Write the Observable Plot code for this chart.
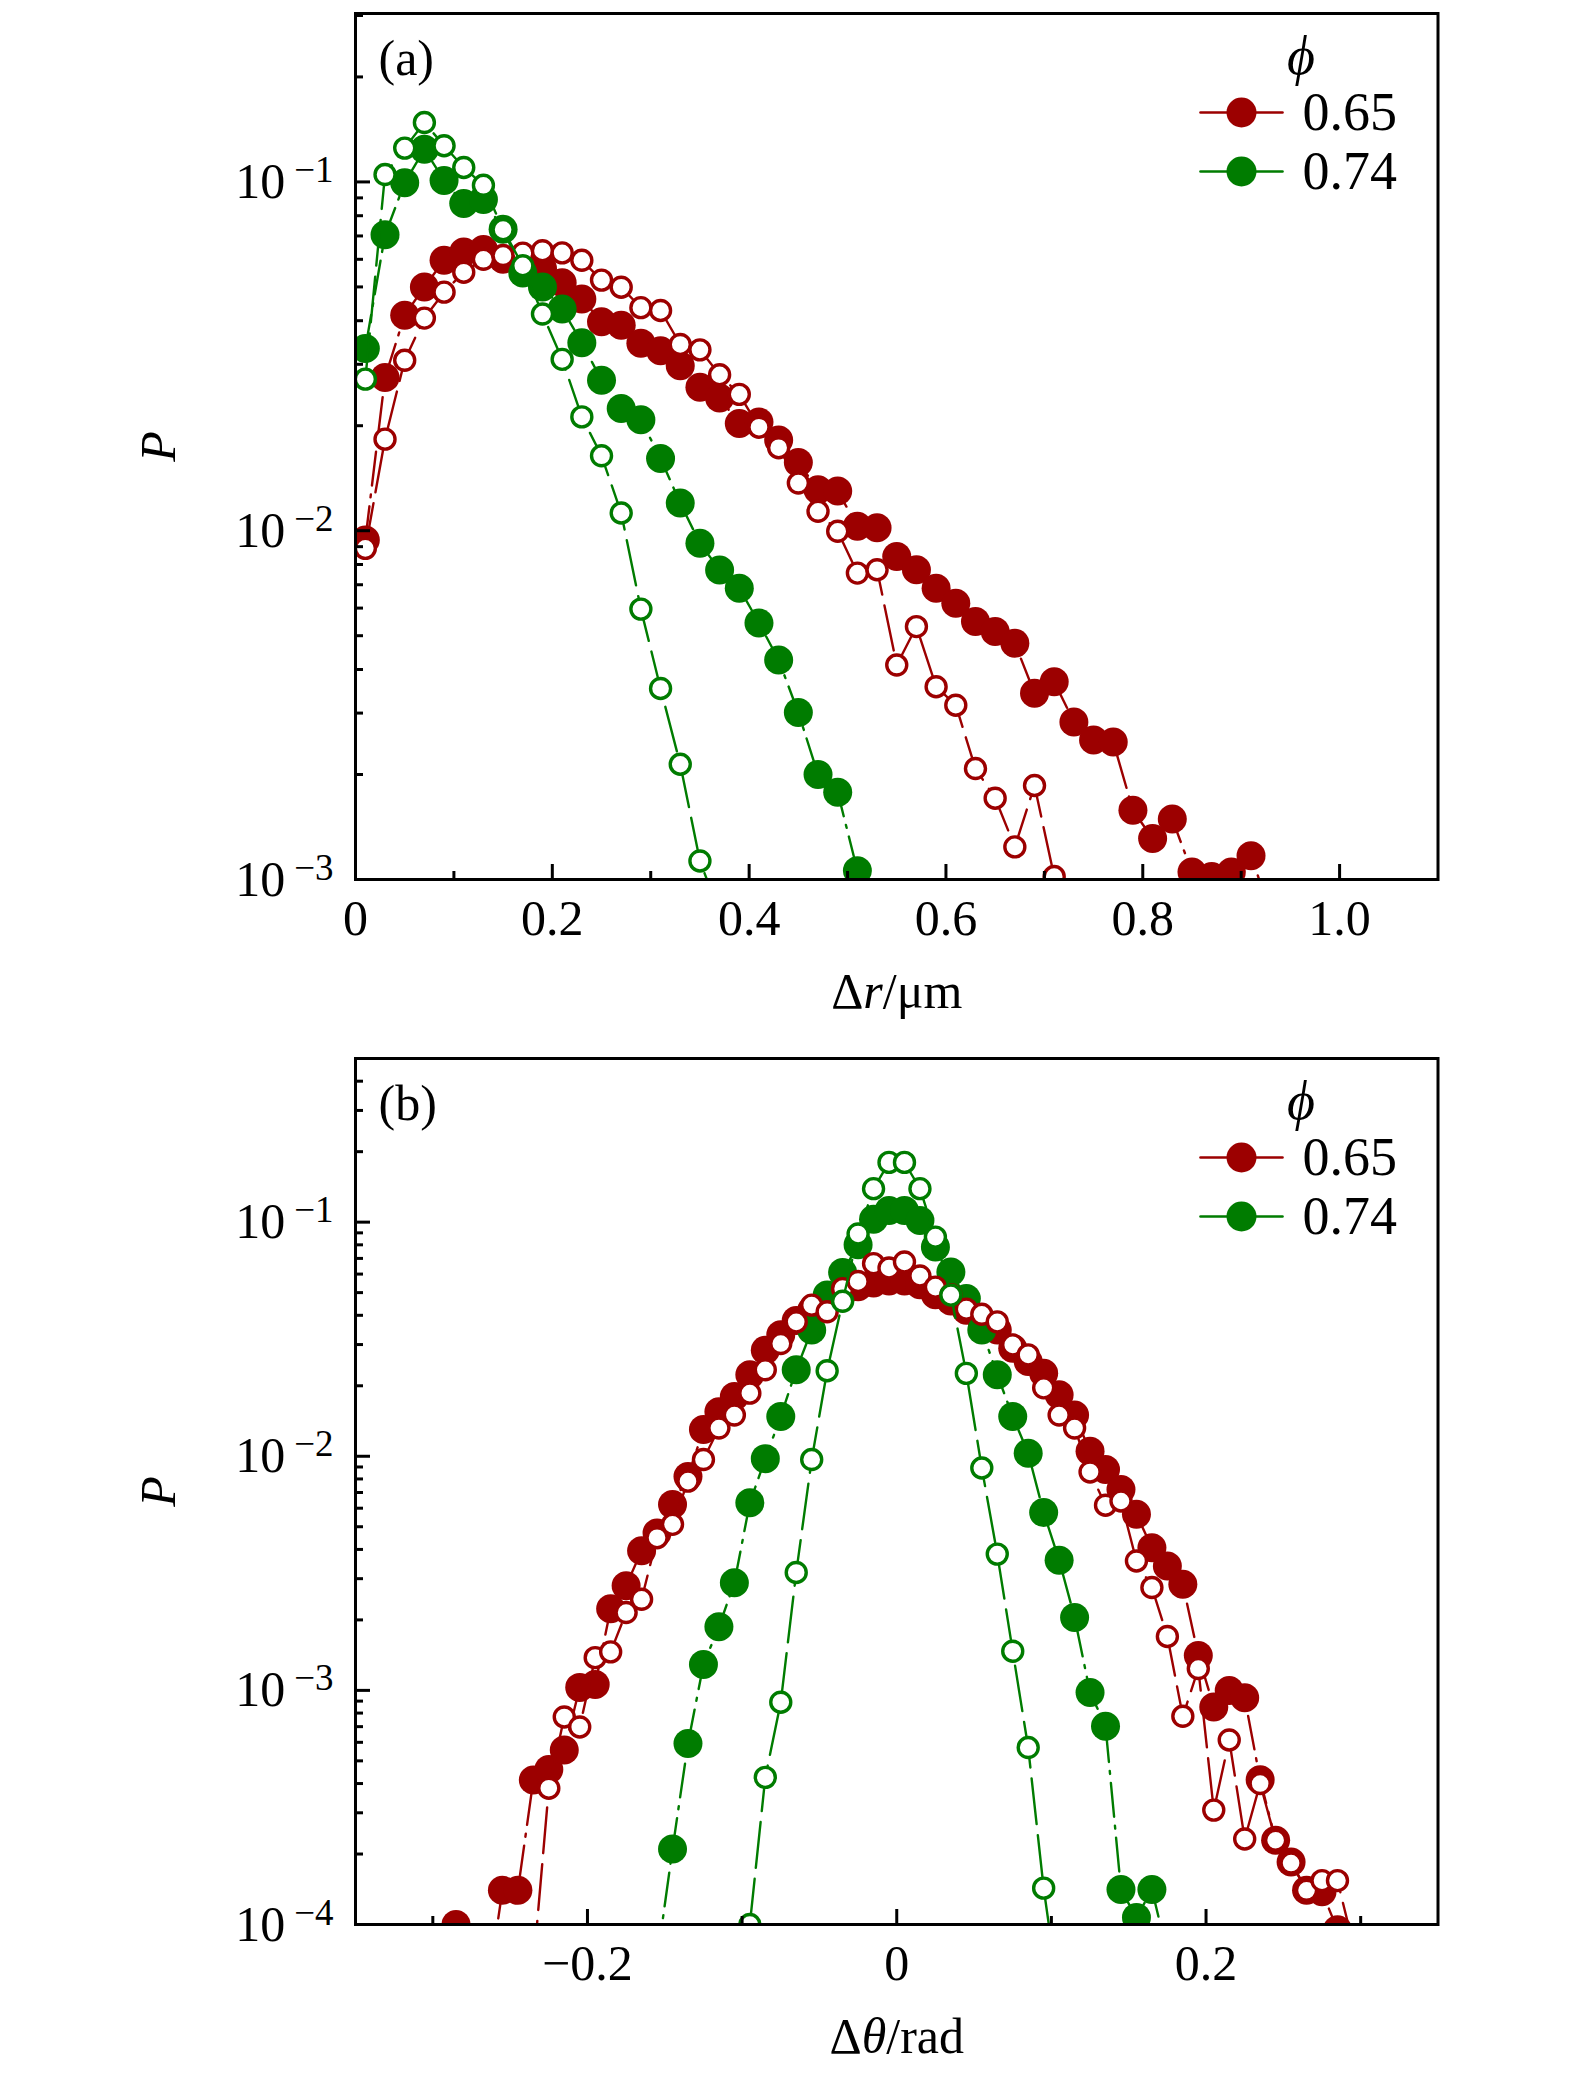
<!DOCTYPE html>
<html>
<head>
<meta charset="utf-8">
<script src="https://cdn.jsdelivr.net/npm/d3@7"></script>
<script src="https://cdn.jsdelivr.net/npm/@observablehq/plot@0.6"></script>
<style>
  html, body { margin: 0; padding: 0; background: #fff; }
  #chart { width: 1575px; }
  #chart svg { display: block; }
</style>
</head>
<body>
<div id="chart"></div>
<script>
// ---------------- data: panel (a), Δr bins ----------------
const drA = [0.01,0.03,0.05,0.07,0.09,0.11,0.13,0.15,0.17,0.19,0.21,0.23,0.25,0.27,0.29,0.31,0.33,0.35,0.37,0.39,0.41,0.43,0.45,0.47,0.49,0.51,0.53,0.55,0.57,0.59,0.61,0.63,0.65,0.67,0.69,0.71,0.73,0.75,0.77,0.79,0.81,0.83,0.85,0.87,0.89,0.91,0.93];
// phi = 0.65, filled symbols
const pA065filled = [0.0094,0.0275,0.0415,0.0500,0.0596,0.0630,0.0640,0.0600,0.0580,0.0565,0.0514,0.0462,0.0397,0.0388,0.0345,0.0328,0.0297,0.0258,0.0240,0.0203,0.0205,0.0182,0.0157,0.0131,0.0130,0.0103,0.0102,0.00844,0.00773,0.00684,0.00619,0.00549,0.00514,0.00476,0.00342,0.00369,0.00283,0.00251,0.00248,0.00158,0.00131,0.00149,0.00105,0.00102,0.00105,0.00117,0.0008];
// phi = 0.65, open symbols
const pA065open = [0.0089,0.0183,0.0308,0.0407,0.0483,0.0551,0.0600,0.0615,0.0625,0.0635,0.0626,0.0596,0.0523,0.0499,0.0436,0.0428,0.0342,0.0330,0.0280,0.0246,0.0198,0.0173,0.0137,0.01137,0.00996,0.00756,0.00773,0.00412,0.00531,0.00357,0.00316,0.00208,0.00171,0.00124,0.00186,0.00102,0.0007];
// phi = 0.74, filled symbols
const pA074filled = [0.0333,0.0705,0.0995,0.1240,0.1010,0.0867,0.0890,0.0732,0.0548,0.0500,0.0432,0.0346,0.0270,0.0224,0.0208,0.0161,0.0120,0.00920,0.00772,0.00684,0.00544,0.00426,0.00301,0.00200,0.00178,0.00106];
// phi = 0.74, open symbols
const pA074open = [0.0272,0.105,0.125,0.148,0.127,0.110,0.0978,0.0730,0.0575,0.0418,0.0310,0.0212,0.0164,0.01124,0.00596,0.00353,0.00214,0.00113,0.0008];

// ---------------- data: panel (b), Δθ bins ----------------
const dthB = [-0.285,-0.275,-0.265,-0.255,-0.245,-0.235,-0.225,-0.215,-0.205,-0.195,-0.185,-0.175,-0.165,-0.155,-0.145,-0.135,-0.125,-0.115,-0.105,-0.095,-0.085,-0.075,-0.065,-0.055,-0.045,-0.035,-0.025,-0.015,-0.005,0.005,0.015,0.025,0.035,0.045,0.055,0.065,0.075,0.085,0.095,0.105,0.115,0.125,0.135,0.145,0.155,0.165,0.175,0.185,0.195,0.205,0.215,0.225,0.235,0.245,0.255,0.265,0.275,0.285,0.295];
const pB065filled = [1.0e-4,5e-5,5e-5,1.40e-4,1.40e-4,4.14e-4,4.59e-4,5.56e-4,1.03e-3,1.06e-3,2.23e-3,2.80e-3,3.95e-3,4.7e-3,6.22e-3,8.2e-3,0.0130,0.0155,0.0180,0.0223,0.0284,0.0330,0.0380,0.0420,0.0460,0.0500,0.0530,0.0550,0.0560,0.0560,0.0540,0.0490,0.0460,0.0420,0.0380,0.0346,0.0289,0.0254,0.0226,0.0183,0.0150,0.0105,0.00877,0.00721,0.00565,0.00407,0.00340,0.00284,0.00141,0.00085,0.00100,0.00093,0.000415,0.000229,0.000185,0.000140,0.000138,0.000095,null];
const pB065open = [null,null,null,null,null,6.6e-5,3.82e-4,7.7e-4,6.98e-4,1.38e-3,1.46e-3,2.15e-3,2.45e-3,4.49e-3,5.12e-3,7.83e-3,9.68e-3,0.0132,0.0150,0.0186,0.0234,0.0303,0.0375,0.0442,0.0414,0.0520,0.0558,0.0665,0.0637,0.0676,0.0589,0.0528,0.0490,0.0425,0.0404,0.0375,0.0299,0.0271,0.0196,0.0150,0.0132,0.00857,0.00618,0.00644,0.00357,0.00275,0.00170,0.000775,0.00124,0.000308,0.000614,0.000232,0.000400,0.000229,0.000183,0.000140,0.000154,0.000154,8.3e-5];
const pB074filled = [null,null,null,null,null,null,null,null,null,null,null,null,null,7e-5,2.10e-4,5.93e-4,1.29e-3,1.87e-3,2.88e-3,6.33e-3,9.77e-3,0.0148,0.0234,0.0346,0.0488,0.0610,0.0800,0.1030,0.1120,0.1120,0.1016,0.0783,0.0612,0.0472,0.0346,0.0223,0.0148,0.0103,0.00575,0.00360,0.00205,0.00098,0.000703,0.000141,0.000107,0.000141,7.5e-5,null,null,null,null,null,null,null,null,null,null,null,null];
const pB074open = [null,null,null,null,null,null,null,null,null,null,null,null,null,null,null,null,null,null,null,1.0e-4,4.25e-4,8.9e-4,3.19e-3,9.68e-3,0.0232,0.0459,0.0890,0.139,0.180,0.180,0.139,0.0863,0.0488,0.0226,0.00891,0.00382,0.00147,0.00057,0.000143,4.9e-5,null,null,null,null,null,null,null,null,null,null,null,null,null,null,null,null,null,null,null];

// ---------------- ticks and labels ----------------
const xMajorA = [0, 0.2, 0.4, 0.6, 0.8, 1.0];
const xMajorLabelsA = ["0", "0.2", "0.4", "0.6", "0.8", "1.0"];
const xMinorA = [0.1, 0.3, 0.5, 0.7, 0.9];
const yMajorA = [1e-3, 1e-2, 1e-1];
const yMajorLabelsA = ["10|\u22123", "10|\u22122", "10|\u22121"];
const yMinorA = [0.002,0.003,0.004,0.005,0.006,0.007,0.008,0.009,0.02,0.03,0.04,0.05,0.06,0.07,0.08,0.09,0.2,0.3];

const xMajorB = [-0.2, 0, 0.2];
const xMajorLabelsB = ["\u22120.2", "0", "0.2"];
const xMinorB = [-0.3, -0.1, 0.1, 0.3];
const yMajorB = [1e-4, 1e-3, 1e-2, 1e-1];
const yMajorLabelsB = ["10|\u22124", "10|\u22123", "10|\u22122", "10|\u22121"];
const yMinorB = [0.0002,0.0003,0.0004,0.0005,0.0006,0.0007,0.0008,0.0009,0.002,0.003,0.004,0.005,0.006,0.007,0.008,0.009,0.02,0.03,0.04,0.05,0.06,0.07,0.08,0.09,0.2,0.3,0.4];

const legendTitle = "\u03d5";
const legendLabels = ["0.65", "0.74"];
const RED = "#9c0000", GREEN = "#007c00";
const legendColors = [RED, GREEN];

// ---------------- drawing ----------------
const FONT = "'Liberation Serif', 'DejaVu Serif', serif";
const FS = 50;
const DASH = "46,11";
const DASHDOT = "34,9,3,9";
const segShape = {draw(ctx, l) { ctx.moveTo(0, 0); ctx.lineTo(0, -l); }};

function rows(xs, ys) {
  return xs.map((x, i) => ({x, y: ys[i]})).filter(d => d.y != null);
}

function seriesMarks(xs, ys, color, filled) {
  const data = rows(xs, ys);
  return [
    Plot.line(data, {x: "x", y: "y", stroke: color, strokeWidth: 2.4,
      strokeDasharray: filled ? DASHDOT : DASH, clip: true}),
    filled
      ? Plot.dot(data, {x: "x", y: "y", r: 14.5, fill: color, clip: true})
      : Plot.dot(data, {x: "x", y: "y", r: 10, fill: "white", stroke: color, strokeWidth: 3.4, clip: true})
  ];
}

function makePanel(cfg) {
  const marks = [];
  for (const s of cfg.series) marks.push(...seriesMarks(cfg.xs, s.values, s.color, s.filled));
  marks.push(Plot.frame({stroke: "black", strokeWidth: 3}));
  // inward ticks
  marks.push(Plot.axisX(cfg.xMajor, {tickSize: 15, dy: -15, fill: "none", label: null, strokeWidth: 3}));
  marks.push(Plot.axisX(cfg.xMinor, {tickSize: 8, dy: -8, fill: "none", label: null, strokeWidth: 3}));
  marks.push(Plot.axisY(cfg.yMajor, {tickSize: 15, dx: 15, fill: "none", label: null, strokeWidth: 3}));
  marks.push(Plot.axisY(cfg.yMinor, {tickSize: 8, dx: 8, fill: "none", label: null, strokeWidth: 3}));
  // tick labels
  marks.push(Plot.axisX(cfg.xMajor, {tickSize: 0, tickPadding: 20, label: null, fontSize: FS,
    tickFormat: d => cfg.xLabels[cfg.xMajor.indexOf(d)]}));
  marks.push(Plot.axisY(cfg.yMajor, {tickSize: 0, tickPadding: 22, label: null, fontSize: FS,
    tickFormat: d => cfg.yLabels[cfg.yMajor.indexOf(d)]}));
  // axis titles
  marks.push(Plot.text([cfg.xTitle.join("")], {frameAnchor: "bottom", dy: 112, lineAnchor: "middle",
    fontSize: FS}));
  marks.push(Plot.text(["P"], {frameAnchor: "left", dx: -197, rotate: -90, fontStyle: "italic",
    textAnchor: "middle", lineAnchor: "middle", fontSize: FS}));
  // panel tag
  marks.push(Plot.text([cfg.tag], {frameAnchor: "top-left", dx: 23, dy: 26, textAnchor: "start",
    lineAnchor: "top", fontSize: FS}));
  // legend
  marks.push(Plot.text([legendTitle], {frameAnchor: "top-right", dx: -137, dy: 43, textAnchor: "middle",
    lineAnchor: "middle", fontStyle: "italic", fontSize: 54}));
  legendLabels.forEach((lab, i) => {
    const dy = 99 + i * 59;
    marks.push(Plot.vector([lab], {frameAnchor: "top-right", dx: -196.5, dy, length: 82, rotate: 90,
      anchor: "middle", shape: segShape, stroke: legendColors[i], strokeWidth: 2.6}));
    marks.push(Plot.dot([lab], {frameAnchor: "top-right", dx: -196.5, dy, r: 15, fill: legendColors[i]}));
    marks.push(Plot.text([lab], {frameAnchor: "top-right", dx: -135.5, dy, textAnchor: "start",
      lineAnchor: "middle", fontSize: 54}));
  });

  const svg = Plot.plot({
    width: 1575,
    height: cfg.height,
    marginTop: 13,
    marginBottom: cfg.height - 13 - 866,
    marginLeft: 355,
    marginRight: 137.5,
    style: {fontFamily: FONT, fontSize: FS + "px", color: "black", background: "white", overflow: "visible"},
    x: {domain: cfg.xDomain, label: null},
    y: {type: "log", domain: cfg.yDomain, label: null},
    marks
  });

  // superscripts on the log tick labels
  d3.select(svg).selectAll('g[aria-label="y-axis tick label"] text').each(function () {
    const t = d3.select(this);
    const s = t.text();
    if (!s.includes("|")) return;
    const [b, e] = s.split("|");
    t.text(b);
    t.append("tspan").attr("dy", -16).attr("dx", 9).attr("font-size", 37).text(e);
  });
  // italic variable in the x title (found by its text)
  const full = cfg.xTitle.join("");
  d3.select(svg).selectAll("text").filter(function () { return this.textContent === full; }).each(function () {
    const t = d3.select(this);
    t.text("");
    t.append("tspan").text(cfg.xTitle[0]);
    t.append("tspan").attr("font-style", "italic").style("font-style", "italic").text(cfg.xTitle[1]);
    t.append("tspan").text(cfg.xTitle[2]);
  });
  return svg;
}

const chart = document.getElementById("chart");

chart.appendChild(makePanel({
  height: 1045,
  xs: drA,
  xDomain: [0, 1.1],
  yDomain: [0.001, 0.304],
  xMajor: xMajorA, xLabels: xMajorLabelsA, xMinor: xMinorA,
  yMajor: yMajorA, yLabels: yMajorLabelsA, yMinor: yMinorA,
  xTitle: ["\u0394", "r", "/\u03bcm"],
  tag: "(a)",
  series: [
    {values: pA065filled, color: RED, filled: true},
    {values: pA074filled, color: GREEN, filled: true},
    {values: pA065open, color: RED, filled: false},
    {values: pA074open, color: GREEN, filled: false}
  ]
}));

chart.appendChild(makePanel({
  height: 1032,
  xs: dthB,
  xDomain: [-0.35, 0.35],
  yDomain: [1e-4, 0.5],
  xMajor: xMajorB, xLabels: xMajorLabelsB, xMinor: xMinorB,
  yMajor: yMajorB, yLabels: yMajorLabelsB, yMinor: yMinorB,
  xTitle: ["\u0394", "\u03b8", "/rad"],
  tag: "(b)",
  series: [
    {values: pB065filled, color: RED, filled: true},
    {values: pB074filled, color: GREEN, filled: true},
    {values: pB065open, color: RED, filled: false},
    {values: pB074open, color: GREEN, filled: false}
  ]
}));
</script>
</body>
</html>
